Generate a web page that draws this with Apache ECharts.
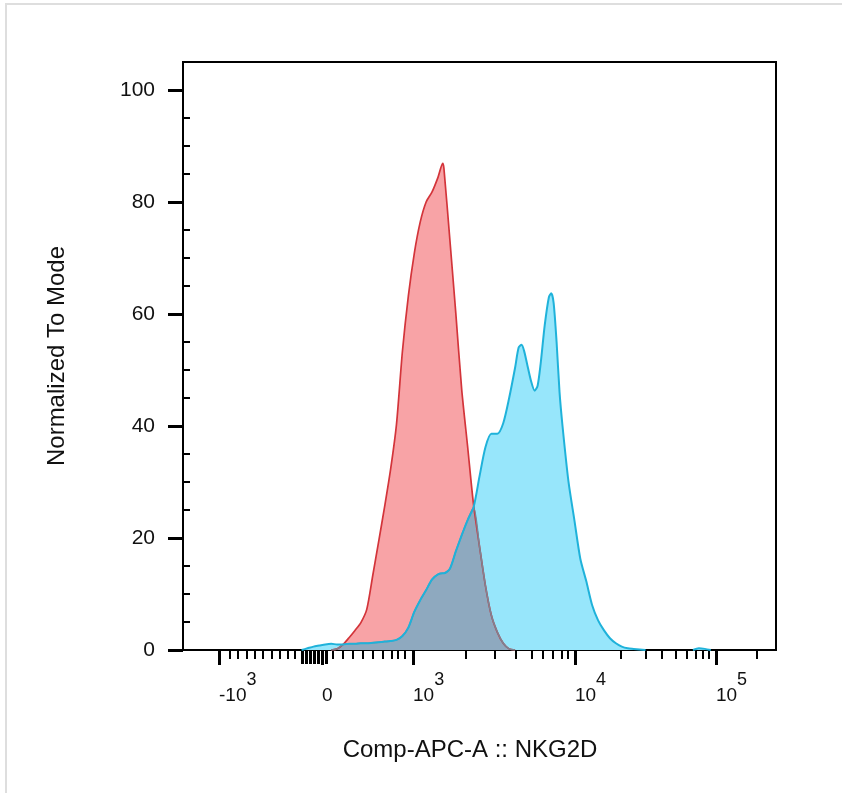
<!DOCTYPE html>
<html>
<head>
<meta charset="utf-8">
<script src="https://cdn.jsdelivr.net/npm/echarts@6/dist/echarts.min.js"></script>
<style>
html,body{margin:0;padding:0;background:#fff;}
#chart{width:842px;height:793px;}
</style>
</head>
<body>
<div id="chart"></div>
<script>
// X values are display channels (0–1000) of the biexponential Comp-APC-A scale
const channels = [200,210,220,230,240,250,260,270,280,290,300,310,320,330,340,350,360,370,380,390,400,410,420,430,438,
  440,450,460,470,480,490,500,510,520,530,540,550,560,566,571,575,580,587,593,598,603,610,617,621,625,630,635,640,
  650,660,670,680,690,700,710,720,730,740,750,760,770,780,790,800,810,820,830,840,850,860,870,880,890];

// Control (red) histogram, % of mode
const controlValues = [null,null,null,null,null,0,0.2,1.0,2.2,3.5,4.9,7.3,13.3,19.4,25.6,32.2,40.3,53.3,63.2,70.8,76.4,80.0,81.8,84.4,86.9,
  86.0,73.3,60.2,46.5,36.3,25.9,18.5,11.5,6.2,3.2,1.2,0.2,0,null,null,null,null,null,null,null,null,null,null,null,null,null,null,null,
  null,null,null,null,null,null,null,null,null,null,null,null,null,null,null,null,null,null,null,null,null,null,null,null,null];

// NKG2D stained (blue) histogram, % of mode
const nkg2dValues = [0,0.3,0.6,0.8,1.0,1.1,1.0,1.0,1.1,1.1,1.2,1.2,1.3,1.4,1.5,1.6,1.8,2.5,4.0,6.8,8.9,10.7,12.6,13.5,13.7,
  13.7,14.5,17.6,20.5,23.2,25.5,31.0,36.2,38.6,38.6,40.5,45.0,50.4,54.0,54.5,53.5,51.2,48.0,46.3,47.2,51.0,58.0,63.0,63.7,62.0,55.0,46.0,40.0,
  30.1,23.2,16.3,12.3,8.0,5.3,3.5,2.1,1.2,0.6,0.3,0.2,0.1,0,null,null,null,null,null,null,null,0,0.3,0.2,0];

// Axis ticks (positions on the display-channel scale)
const xMajorTicks = [60.7, 234.4, 387.9, 661.0, 898.8];
const xMajorBase = ['-10', '0', '10', '10', '10'];
const xMajorExp = ['3', '', '3', '4', '5'];
const xZeroTicks = [200.7, 207.4, 214.2, 220.9, 227.7, 241.1];
const xMinorTicks = [79.3, 92.7, 107.9, 121.4, 134.9, 150.1, 163.6, 177.1, 188.9,
  252.9, 269.8, 286.7, 303.5, 320.4, 337.3, 352.4, 362.6, 374.4,
  477.2, 526.1, 561.6, 588.5, 607.1, 623.9, 639.1, 649.2,
  738.6, 780.8, 807.8, 831.4, 849.9, 865.1, 876.9, 887.0, 968.0];
const yMajorTicks = [0, 20, 40, 60, 80, 100];
const yMinorTicks = [5, 10, 15, 25, 30, 35, 45, 50, 55, 65, 70, 75, 85, 90, 95];

const FONT = "'Liberation Sans', Arial, sans-serif";
const TXT = '#111';

const controlData = channels.map((c, i) => [c, controlValues[i]]);
const nkg2dData = channels.map((c, i) => [c, nkg2dValues[i]]);
const overlapData = channels.map((c, i) =>
  (controlValues[i] == null || nkg2dValues[i] == null) ? [c, null] : [c, Math.min(controlValues[i], nkg2dValues[i])]);

function xLabel(v) {
  let best = 0;
  for (let i = 1; i < xMajorTicks.length; i++) {
    if (Math.abs(xMajorTicks[i] - v) < Math.abs(xMajorTicks[best] - v)) best = i;
  }
  return xMajorExp[best] ? '{b|' + xMajorBase[best] + '}{s|' + xMajorExp[best] + '}' : '{b|' + xMajorBase[best] + '}';
}

const chart = echarts.init(document.getElementById('chart'), null, {renderer: 'canvas'});
const SM = 0.25;
chart.setOption({
  animation: false,
  backgroundColor: '#fff',
  graphic: [{
    type: 'rect', z: -10, silent: true,
    shape: {x: 6, y: 4, width: 900, height: 900},
    style: {fill: 'none', stroke: '#dedede', lineWidth: 2}
  }],
  grid: {left: 183, right: 66, top: 62, bottom: 143, show: true, borderColor: '#000', borderWidth: 2, backgroundColor: 'transparent'},
  xAxis: [{
    type: 'value', min: 0, max: 1000, position: 'bottom',
    axisLine: {show: false}, splitLine: {show: false},
    axisTick: {show: true, customValues: xMajorTicks, length: 15, lineStyle: {color: '#000', width: 3}},
    axisLabel: {
      show: true, customValues: xMajorTicks, align: 'left', margin: 21, formatter: xLabel,
      rich: {
        b: {fontSize: 19, lineHeight: 34, verticalAlign: 'bottom', fontFamily: FONT, color: TXT},
        s: {fontSize: 18, verticalAlign: 'top', fontFamily: FONT, color: TXT}
      }
    },
    name: 'Comp-APC-A :: NKG2D', nameLocation: 'middle', nameGap: 88,
    nameTextStyle: {fontSize: 24, fontFamily: FONT, color: TXT, padding: [0, 19, 0, 0]}
  }, {
    type: 'value', min: 0, max: 1000, position: 'bottom',
    axisLine: {show: false}, splitLine: {show: false},
    axisTick: {show: true, customValues: xMinorTicks, length: 9, lineStyle: {color: '#000', width: 2}},
    axisLabel: {show: false}
  }, {
    type: 'value', min: 0, max: 1000, position: 'bottom',
    axisLine: {show: false}, splitLine: {show: false},
    axisTick: {show: true, customValues: xZeroTicks, length: 14, lineStyle: {color: '#000', width: 3}},
    axisLabel: {show: false}
  }],
  yAxis: [{
    type: 'value', min: 0, max: 105,
    axisLine: {show: false}, splitLine: {show: false},
    axisTick: {show: true, customValues: yMajorTicks, length: 15, lineStyle: {color: '#000', width: 3}},
    axisLabel: {show: true, customValues: yMajorTicks, margin: 28, fontSize: 21, fontFamily: FONT, color: TXT},
    name: 'Normalized To Mode', nameLocation: 'middle', nameGap: 114,
    nameTextStyle: {fontSize: 24, fontFamily: FONT, color: TXT}
  }, {
    type: 'value', min: 0, max: 105,
    axisLine: {show: false}, splitLine: {show: false},
    axisTick: {show: true, customValues: yMinorTicks, length: 7, lineStyle: {color: '#000', width: 2}},
    axisLabel: {show: false}
  }],
  series: [{
    name: 'Control', type: 'line', data: controlData, smooth: SM, showSymbol: false, silent: true,
    lineStyle: {color: '#d3343a', width: 1.7},
    areaStyle: {color: '#f8a3a6', opacity: 1}
  }, {
    name: 'NKG2D fill', type: 'line', data: nkg2dData, smooth: SM, showSymbol: false, silent: true,
    lineStyle: {width: 0, opacity: 0},
    areaStyle: {color: '#97e6fb', opacity: 1}
  }, {
    name: 'Overlap', type: 'line', data: overlapData, smooth: SM, showSymbol: false, silent: true,
    lineStyle: {color: '#7b8494', width: 1.5},
    areaStyle: {color: '#8ea9bf', opacity: 1}
  }, {
    name: 'NKG2D', type: 'line', data: nkg2dData, smooth: SM, showSymbol: false, silent: true,
    lineStyle: {color: '#1fb2da', width: 2}
  }]
});
</script>
</body>
</html>
